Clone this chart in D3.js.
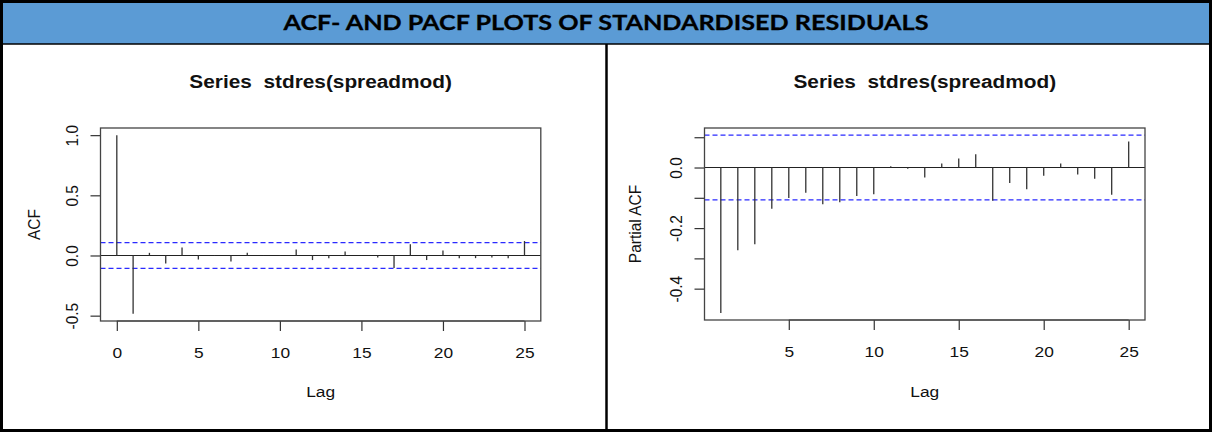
<!DOCTYPE html>
<html>
<head>
<meta charset="utf-8">
<script src="https://cdn.jsdelivr.net/npm/d3@7"></script>
<style>
  body { margin: 0; background: #fff; }
  svg { display: block; }
  text { font-family: "Liberation Sans", Arial, sans-serif; fill: #111; }
</style>
</head>
<body>
<div id="chart"></div>
<script>
// values
const acfLags = [0, 1, 2, 3, 4, 5, 6, 7, 8, 9, 10, 11, 12, 13, 14, 15, 16, 17, 18, 19, 20, 21, 22, 23, 24, 25];
const acfValues = [1.0, -0.485, 0.022, -0.066, 0.066, -0.033, 0.004, -0.05, 0.022, -0.003, 0.004, 0.05, -0.038,
    -0.022, 0.033, 0.002, -0.016, -0.105, 0.094, -0.038, 0.041, -0.022, -0.022, -0.016, -0.022, 0.12];
const pacfLags = [1, 2, 3, 4, 5, 6, 7, 8, 9, 10, 11, 12, 13, 14, 15, 16, 17, 18, 19, 20, 21, 22, 23, 24, 25];
const pacfValues = [-0.48, -0.273, -0.253, -0.136, -0.101, -0.083, -0.121, -0.115, -0.094, -0.088, 0.004, -0.004,
    -0.033, 0.013, 0.030, 0.044, -0.110, -0.051, -0.072, -0.027, 0.013, -0.023, -0.037, -0.090, 0.086];
const ciLevel = 0.107;

const acfXTicks = [0, 5, 10, 15, 20, 25];
const acfYTicks = [-0.5, 0, 0.5, 1.0];
const acfYLabels = ["-0.5", "0.0", "0.5", "1.0"];
const pacfXTicks = [5, 10, 15, 20, 25];
const pacfYTicks = [-0.4, -0.3, -0.2, -0.1, 0, 0.1];
const pacfYLabels = ["-0.4", "", "-0.2", "", "0.0", ""];

const headerText = "ACF- AND PACF PLOTS OF STANDARDISED RESIDUALS";
const plotTitle = "Series  stdres(spreadmod)";

const W = 1212, H = 432;
const stretch = 1.12; // the screenshot is a bit wider than R drew it

const svg = d3.select("#chart").append("svg")
    .attr("width", W)
    .attr("height", H);

// header band
svg.append("rect")
    .attr("x", 2).attr("y", 2)
    .attr("width", W - 4).attr("height", 42)
    .attr("fill", "#5b9bd5");

svg.append("text")
    .attr("x", W / 2).attr("y", 29.5)
    .attr("text-anchor", "middle")
    .attr("textLength", 645).attr("lengthAdjust", "spacingAndGlyphs")
    .style("font-family", "Lato, 'Open Sans', sans-serif")
    .style("font-weight", 700)
    .style("font-size", "21.6px")
    .style("fill", "#000")
    .style("stroke", "#000").style("stroke-width", 0.3)
    .text(headerText);

svg.append("line")
    .attr("x1", 0).attr("x2", W)
    .attr("y1", 44).attr("y2", 44)
    .attr("stroke", "#000").attr("stroke-width", 1.5);

svg.append("line")
    .attr("x1", 606.5).attr("x2", 606.5)
    .attr("y1", 44).attr("y2", H)
    .attr("stroke", "#000").attr("stroke-width", 2.5);

svg.append("rect")
    .attr("x", 1.5).attr("y", 1.5)
    .attr("width", W - 3).attr("height", H - 3)
    .attr("fill", "none")
    .attr("stroke", "#000").attr("stroke-width", 3);

// R style range with 4% extension
function rRange(lo, hi) {
    const e = (hi - lo) * 0.04;
    return [lo - e, hi + e];
}

function drawPanel(cfg) {
    const g = svg.append("g");
    const { left, right, top, bottom } = cfg.box;

    const x = d3.scaleLinear()
        .domain(rRange(d3.min(cfg.lags), d3.max(cfg.lags)))
        .range([left, right]);
    const y = d3.scaleLinear()
        .domain(rRange(Math.min(d3.min(cfg.values), -ciLevel), Math.max(d3.max(cfg.values), ciLevel)))
        .range([bottom, top]);

    // title
    g.append("text")
        .attr("transform", `translate(${(left + right) / 2},88.3) scale(${stretch},1)`)
        .attr("text-anchor", "middle")
        .style("white-space", "pre")
        .style("font-weight", "bold")
        .style("font-size", "18.6px")
        .text(plotTitle);

    // x axis
    const xAxis = g.append("g")
        .attr("transform", `translate(0,${bottom})`)
        .call(d3.axisBottom(x).tickValues(cfg.xTicks).tickSize(10).tickSizeOuter(0).tickFormat(d3.format("d")));
    xAxis.select(".domain").remove();
    xAxis.selectAll(".tick line").attr("stroke", "#333").attr("stroke-width", 1.2);
    xAxis.selectAll(".tick text")
        .attr("y", null).attr("dy", null)
        .attr("transform", `translate(0,37) scale(${stretch},1)`)
        .style("font-size", "15.5px")
        .style("font-family", "'Liberation Sans', Arial, sans-serif")
        .attr("fill", "#111");
    g.append("line")
        .attr("x1", x(cfg.xTicks[0])).attr("x2", x(cfg.xTicks[cfg.xTicks.length - 1]))
        .attr("y1", bottom).attr("y2", bottom)
        .attr("stroke", "#333").attr("stroke-width", 1.2);

    // y axis
    const yAxis = g.append("g")
        .attr("transform", `translate(${left},0)`)
        .call(d3.axisLeft(y).tickValues(cfg.yTicks).tickSize(10).tickSizeOuter(0)
            .tickFormat((d, i) => cfg.yLabels[i]));
    yAxis.select(".domain").remove();
    yAxis.selectAll(".tick line").attr("stroke", "#333").attr("stroke-width", 1.2);
    yAxis.selectAll(".tick text")
        .attr("x", null).attr("dy", null)
        .attr("transform", `translate(-22.5,0) scale(${stretch},1) rotate(-90)`)
        .attr("text-anchor", "middle")
        .style("font-size", "15.5px")
        .style("font-family", "'Liberation Sans', Arial, sans-serif")
        .attr("fill", "#111");

    // axis titles
    g.append("text")
        .attr("transform", `translate(${(left + right) / 2},397) scale(${stretch},1)`)
        .attr("text-anchor", "middle")
        .style("font-size", "15.5px")
        .text("Lag");
    g.append("text")
        .attr("transform", `translate(${cfg.yTitleX},${(top + bottom) / 2}) scale(${stretch},1) rotate(-90)`)
        .attr("text-anchor", "middle")
        .style("font-size", "15.5px")
        .text(cfg.yTitle);

    // confidence bounds
    g.selectAll("line.ci")
        .data([ciLevel, -ciLevel])
        .join("line")
        .attr("class", "ci")
        .attr("x1", left).attr("x2", right)
        .attr("y1", d => y(d)).attr("y2", d => y(d))
        .attr("stroke", "#2a2aff")
        .attr("stroke-width", 1.2)
        .attr("stroke-dasharray", "5,3");

    // zero line
    g.append("line")
        .attr("x1", left).attr("x2", right)
        .attr("y1", y(0)).attr("y2", y(0))
        .attr("stroke", "#222").attr("stroke-width", 1.2);

    // spikes
    g.selectAll("line.spike")
        .data(cfg.lags.map((l, i) => ({ lag: l, v: cfg.values[i] })))
        .join("line")
        .attr("class", "spike")
        .attr("x1", d => x(d.lag)).attr("x2", d => x(d.lag))
        .attr("y1", y(0)).attr("y2", d => y(d.v))
        .attr("stroke", "#333").attr("stroke-width", 1.3);

    // plot box
    g.append("rect")
        .attr("x", left).attr("y", top)
        .attr("width", right - left).attr("height", bottom - top)
        .attr("fill", "none")
        .attr("stroke", "#444").attr("stroke-width", 1.3);
}

drawPanel({
    box: { left: 100.5, right: 540.8, top: 128, bottom: 321 },
    lags: acfLags, values: acfValues,
    xTicks: acfXTicks, yTicks: acfYTicks, yLabels: acfYLabels,
    yTitle: "ACF", yTitleX: 40
});

drawPanel({
    box: { left: 704.5, right: 1145, top: 128, bottom: 320 },
    lags: pacfLags, values: pacfValues,
    xTicks: pacfXTicks, yTicks: pacfYTicks, yLabels: pacfYLabels,
    yTitle: "Partial ACF", yTitleX: 641
});
</script>
</body>
</html>
